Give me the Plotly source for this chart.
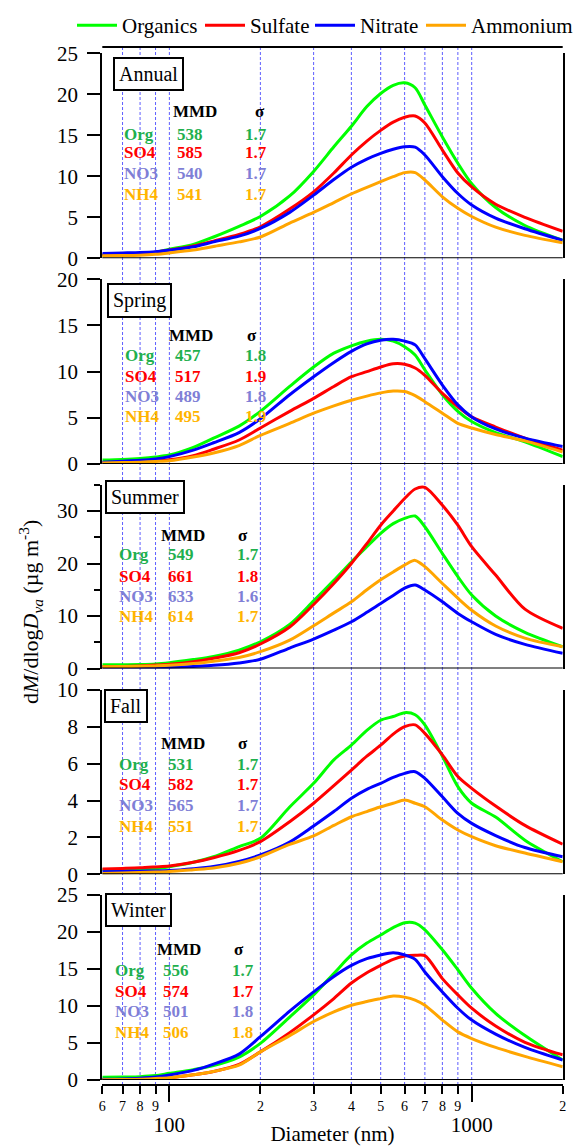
import plotly.graph_objects as go

W, H = 577, 1146


def px(x):
    return x / W


def py(y):
    return 1 - y / H


# ---------------- data ----------------
diam = [60, 70, 80, 90, 100, 120, 140, 170, 200, 250, 300, 350, 400, 450, 500,
        550, 600, 650, 700, 800, 900, 1000, 1200, 1500, 2000]

species = ["Organics", "Sulfate", "Nitrate", "Ammonium"]
line_colors = ["#00ff00", "#ff0000", "#0000ff", "#ffa500"]
legend_entry_widths = [73, 55, 56, 100]

annual_org = [0.4, 0.45, 0.55, 0.75, 1.1, 1.7, 2.6, 3.9, 5.1, 7.6, 10.6, 13.6, 16.1, 18.5, 20.1,
              21.1, 21.4, 20.8, 18.7, 14.8, 11.6, 9.1, 6.2, 4.0, 2.2]
annual_so4 = [0.4, 0.45, 0.55, 0.75, 1.0, 1.5, 2.1, 2.9, 3.85, 6.0, 8.1, 10.4, 12.6, 14.3, 15.6,
              16.6, 17.2, 17.35, 16.5, 13.2, 10.4, 8.7, 6.6, 5.0, 3.3]
annual_no3 = [0.6, 0.65, 0.7, 0.8, 1.0, 1.4, 2.0, 2.7, 3.65, 5.6, 7.7, 9.6, 11.1, 12.1, 12.8,
              13.3, 13.6, 13.55, 12.6, 9.95, 7.9, 6.5, 4.9, 3.6, 2.2]
annual_nh4 = [0.3, 0.33, 0.38, 0.48, 0.65, 1.0, 1.45, 2.0, 2.6, 4.3, 5.6, 6.8, 7.85, 8.65, 9.35,
              9.95, 10.45, 10.45, 9.55, 7.5, 6.1, 5.1, 3.8, 2.8, 1.9]

spring_org = [0.43, 0.5, 0.6, 0.75, 0.97, 1.8, 2.8, 4.1, 5.7, 8.4, 10.5, 12.0, 12.8, 13.3, 13.5,
              13.3, 12.7, 11.8, 10.2, 7.5, 5.7, 4.6, 3.4, 2.4, 0.8]
spring_so4 = [0.15, 0.2, 0.25, 0.35, 0.45, 0.9, 1.6, 2.6, 3.9, 5.7, 7.1, 8.4, 9.45, 10.0, 10.5,
              10.85, 10.8, 10.4, 9.6, 7.65, 6.2, 5.1, 4.0, 2.8, 1.5]
spring_no3 = [0.2, 0.3, 0.4, 0.55, 0.8, 1.5, 2.3, 3.4, 4.9, 7.5, 9.45, 11.0, 12.2, 13.0, 13.4,
              13.5, 13.3, 12.9, 11.4, 8.55, 6.4, 5.1, 3.8, 2.8, 1.9]
spring_nh4 = [0.1, 0.15, 0.2, 0.27, 0.35, 0.75, 1.2, 2.0, 3.1, 4.4, 5.5, 6.3, 6.9, 7.35, 7.7,
              7.9, 7.85, 7.4, 6.75, 5.5, 4.4, 3.9, 3.2, 2.5, 1.3]

summer_org = [0.7, 0.72, 0.75, 0.85, 1.1, 1.7, 2.3, 3.5, 5.1, 8.4, 12.9, 16.8, 20.3, 23.2, 25.75,
              27.6, 28.6, 29.05, 27.0, 21.9, 17.5, 14.0, 10.0, 6.9, 4.15]
summer_so4 = [0.35, 0.4, 0.5, 0.65, 0.8, 1.3, 1.95, 3.0, 4.67, 7.9, 12.2, 16.2, 20.0, 23.8, 27.3,
              30.0, 32.4, 34.2, 34.5, 31.1, 27.3, 23.2, 17.8, 11.3, 7.65]
summer_no3 = [0.05, 0.07, 0.1, 0.15, 0.2, 0.4, 0.6, 1.05, 1.75, 3.9, 5.6, 7.3, 8.9, 10.7, 12.4,
              13.9, 15.3, 15.9, 14.95, 12.7, 10.5, 8.9, 6.5, 4.6, 2.9]
summer_nh4 = [0.35, 0.38, 0.42, 0.5, 0.6, 0.95, 1.4, 2.1, 3.2, 5.4, 8.15, 10.6, 12.7, 15.0, 16.9,
              18.4, 19.7, 20.6, 19.4, 16.2, 13.4, 11.1, 8.1, 5.8, 4.15]

fall_org = [0.25, 0.2, 0.25, 0.3, 0.41, 0.65, 0.95, 1.5, 1.95, 3.65, 4.93, 6.2, 7.0, 7.8, 8.35,
            8.55, 8.76, 8.65, 8.1, 6.4, 4.75, 3.85, 3.1, 1.85, 0.68]
fall_so4 = [0.29, 0.32, 0.35, 0.4, 0.45, 0.65, 0.9, 1.3, 1.77, 2.85, 3.85, 4.8, 5.65, 6.4, 7.0,
            7.6, 8.0, 8.1, 7.64, 6.47, 5.3, 4.66, 3.7, 2.65, 1.63]
fall_no3 = [0.14, 0.15, 0.17, 0.18, 0.2, 0.3, 0.42, 0.7, 1.05, 1.75, 2.62, 3.4, 4.12, 4.6, 4.93,
            5.25, 5.47, 5.56, 5.2, 4.2, 3.3, 2.76, 2.1, 1.45, 0.95]
fall_nh4 = [0.05, 0.07, 0.1, 0.12, 0.15, 0.25, 0.34, 0.6, 0.95, 1.62, 2.08, 2.65, 3.12, 3.4, 3.66,
            3.85, 4.03, 3.85, 3.66, 2.94, 2.4, 2.04, 1.55, 1.15, 0.68]

winter_org = [0.36, 0.4, 0.45, 0.6, 0.9, 1.4, 1.95, 3.1, 4.95, 8.5, 11.5, 14.4, 16.9, 18.5, 19.6,
              20.6, 21.25, 21.2, 20.3, 17.6, 14.9, 12.4, 9.0, 6.0, 2.7]
winter_so4 = [0.05, 0.07, 0.1, 0.2, 0.3, 0.7, 1.15, 2.1, 3.8, 6.4, 8.8, 11.0, 13.1, 14.5, 15.5,
              16.3, 16.75, 16.85, 16.8, 13.7, 11.5, 9.7, 7.3, 5.1, 3.4]
winter_no3 = [0.1, 0.15, 0.25, 0.4, 0.67, 1.3, 2.15, 3.5, 5.85, 9.3, 11.9, 14.0, 15.5, 16.4, 16.9,
              17.2, 16.9, 16.3, 14.6, 11.9, 9.7, 8.1, 6.2, 4.4, 2.7]
winter_nh4 = [0.05, 0.07, 0.1, 0.2, 0.3, 0.7, 1.15, 2.0, 3.8, 6.0, 7.9, 9.2, 10.1, 10.6, 11.0,
              11.35, 11.2, 10.8, 10.1, 8.1, 6.5, 5.6, 4.4, 3.2, 1.8]

seasons = ["Annual", "Spring", "Summer", "Fall", "Winter"]
season_series = [
    [annual_org, annual_so4, annual_no3, annual_nh4],
    [spring_org, spring_so4, spring_no3, spring_nh4],
    [summer_org, summer_so4, summer_no3, summer_nh4],
    [fall_org, fall_so4, fall_no3, fall_nh4],
    [winter_org, winter_so4, winter_no3, winter_nh4],
]
y_max = [25, 20, 35, 10, 25]
y_dtick = [5, 5, 10, 2, 5]

stat_names = ["Org", "SO4", "NO3", "NH4"]
stat_colors = ["#1fb04e", "#ff0000", "#7f7fd6", "#ffb400"]
mmd_values = [
    ["538", "585", "540", "541"],
    ["457", "517", "489", "495"],
    ["549", "661", "633", "614"],
    ["531", "582", "565", "551"],
    ["556", "574", "501", "506"],
]
sigma_values = [
    ["1.7", "1.7", "1.7", "1.7"],
    ["1.8", "1.9", "1.8", "1.9"],
    ["1.7", "1.8", "1.6", "1.7"],
    ["1.7", "1.7", "1.7", "1.7"],
    ["1.7", "1.7", "1.8", "1.8"],
]

major_ticks = [100, 1000]
major_text = ["100", "1000"]
minor_ticks = [60, 70, 80, 90, 200, 300, 400, 500, 600, 700, 800, 900, 2000]
minor_text = ["6", "7", "8", "9", "2", "3", "4", "5", "6", "7", "8", "9", "2"]
grid_vals = [70, 80, 90, 100, 200, 300, 400, 500, 600, 700, 800, 900, 1000]

# ---------------- layout geometry (pixels) ----------------
FONT = "Liberation Serif"
X0, X1 = 102.3, 562.7
AXIS_Y = 1085
panel_px = [(53.3, 258.3), (279.3, 464.0), (484.8, 668.5), (689.8, 874.3), (895.0, 1080.0)]
box_pos = [(113, 56.5), (106.5, 283.3), (105, 480), (103.5, 689), (105, 893.3)]
stat_pos = [
    (122, 189.5, 256, 194.7, 260, 111.7, [134, 152.7, 173.3, 194.3]),
    (123, 187.5, 255, 190.5, 252.3, 335.7, [355.7, 376, 396, 416.7]),
    (117.3, 180.5, 247.5, 182.5, 243.3, 535, [555, 576, 596.7, 616.7]),
    (116.7, 180.5, 247.5, 182.5, 243.3, 743.3, [764.3, 784, 805.7, 826]),
    (112.7, 175.8, 242.5, 179.2, 239.2, 949.3, [970, 991.7, 1011.7, 1032.7]),
]

fig = go.Figure()

for i, series in enumerate(season_series):
    yref = "y" if i == 0 else f"y{i + 1}"
    for k, vals in enumerate(series):
        fig.add_trace(go.Scatter(
            x=diam, y=vals, mode="lines", name=species[k],
            line=dict(color=line_colors[k], width=3, shape="spline", smoothing=0.8),
            xaxis="x", yaxis=yref, legendgroup=species[k], showlegend=(i == 0),
            legendwidth=legend_entry_widths[k], hoverinfo="skip",
        ))

# invisible helper trace so the minor-label axis is drawn
fig.add_trace(go.Scatter(x=[100], y=[0], xaxis="x2", yaxis="y5", mode="markers",
                         marker=dict(opacity=0), showlegend=False, hoverinfo="skip"))

layout = dict(
    width=W, height=H, autosize=False,
    margin=dict(l=0, r=0, t=0, b=0, pad=0),
    paper_bgcolor="white", plot_bgcolor="rgba(0,0,0,0)",
    font=dict(family=FONT, color="black", size=20),
    showlegend=True,
    legend=dict(orientation="h", x=px(72), y=py(5), xanchor="left", yanchor="top",
                font=dict(family=FONT, size=21), bgcolor="rgba(0,0,0,0)",
                borderwidth=0, traceorder="normal", itemwidth=40,
                entrywidthmode="pixels"),
    xaxis=dict(type="log", range=[1.77815125, 3.30103], domain=[px(X0), px(X1)],
               anchor="free", position=py(AXIS_Y), showline=True, linewidth=2,
               linecolor="black", ticks="outside", ticklen=16, tickwidth=2,
               tickcolor="black", tickmode="array", tickvals=major_ticks,
               ticktext=major_text, tickfont=dict(family=FONT, size=21),
               ticklabelstandoff=5, showgrid=False, zeroline=False, automargin=False,
               title=dict(text="Diameter (nm)", font=dict(family=FONT, size=21), standoff=9)),
    xaxis2=dict(type="log", range=[1.77815125, 3.30103], domain=[px(X0), px(X1)],
                overlaying="x", anchor="free", position=py(AXIS_Y), showline=False,
                ticks="outside", ticklen=8, tickwidth=2, tickcolor="black",
                tickmode="array", tickvals=minor_ticks, ticktext=minor_text,
                tickfont=dict(family=FONT, size=14), ticklabelstandoff=0,
                showgrid=False, zeroline=False, automargin=False),
)

shapes = []
for i, (top, bot) in enumerate(panel_px):
    key = "yaxis" if i == 0 else f"yaxis{i + 1}"
    yname = "y" if i == 0 else f"y{i + 1}"
    ax = dict(domain=[py(bot), py(top)], range=[0, y_max[i]], anchor="x",
              showline=True, linewidth=2, linecolor="black", mirror=True,
              ticks="outside", ticklen=13, tickwidth=2, tickcolor="black",
              tick0=0, dtick=y_dtick[i], tickfont=dict(family=FONT, size=21),
              ticklabelstandoff=5, showgrid=False, zeroline=False, automargin=False)
    if i == 2:
        ax["minor"] = dict(dtick=5, ticklen=6, tickwidth=2, tickcolor="black",
                           ticks="outside", showgrid=False)
    layout[key] = ax
    # bottom (y = 0) line of each panel
    shapes.append(dict(type="line", xref="paper", yref=yname, x0=px(X0), x1=px(X1),
                       y0=0, y1=0, line=dict(color="black", width=2)))

# top frame line
shapes.append(dict(type="line", xref="paper", yref="paper", x0=px(X0), x1=px(X1),
                   y0=py(47), y1=py(47), line=dict(color="black", width=2)))
# dashed vertical grid lines spanning all panels
for v in grid_vals:
    shapes.append(dict(type="line", xref="x", yref="paper", x0=v, x1=v,
                       y0=py(AXIS_Y), y1=py(47), layer="below",
                       line=dict(color="rgba(40,40,255,0.75)", width=1, dash="3px,2px")))
layout["shapes"] = shapes

annotations = []
# y-axis title
annotations.append(dict(
    text="d<i>M</i>/dlog<i>D</i><sub><i>va</i></sub> (µg m<sup>-3</sup>)",
    xref="paper", yref="paper", x=px(30), y=py(612), textangle=-90,
    showarrow=False, font=dict(family=FONT, size=22), xanchor="center", yanchor="middle"))

for i, name in enumerate(seasons):
    bx, by = box_pos[i]
    annotations.append(dict(text=name, xref="paper", yref="paper", x=px(bx), y=py(by),
                            xanchor="left", yanchor="top", showarrow=False,
                            font=dict(family=FONT, size=20), bordercolor="black",
                            borderwidth=2, borderpad=4, bgcolor="white"))
    lab_l, mmd_c, sig_c, hm_c, hs_c, hy, rows = stat_pos[i]
    annotations.append(dict(text="<b>MMD</b>", xref="paper", yref="paper", x=px(hm_c),
                            y=py(hy), xanchor="center", yanchor="middle", showarrow=False,
                            font=dict(family=FONT, size=17, color="black")))
    annotations.append(dict(text="<b>σ</b>", xref="paper", yref="paper", x=px(hs_c),
                            y=py(hy), xanchor="center", yanchor="middle", showarrow=False,
                            font=dict(family=FONT, size=17, color="black")))
    for j in range(4):
        c = stat_colors[j]
        annotations.append(dict(text=f"<b>{stat_names[j]}</b>", xref="paper", yref="paper",
                                x=px(lab_l), y=py(rows[j]), xanchor="left", yanchor="middle",
                                showarrow=False, font=dict(family=FONT, size=17, color=c)))
        annotations.append(dict(text=f"<b>{mmd_values[i][j]}</b>", xref="paper", yref="paper",
                                x=px(mmd_c), y=py(rows[j]), xanchor="center", yanchor="middle",
                                showarrow=False, font=dict(family=FONT, size=17, color=c)))
        annotations.append(dict(text=f"<b>{sigma_values[i][j]}</b>", xref="paper", yref="paper",
                                x=px(sig_c), y=py(rows[j]), xanchor="center", yanchor="middle",
                                showarrow=False, font=dict(family=FONT, size=17, color=c)))
layout["annotations"] = annotations

fig.update_layout(**layout)
fig.write_html("out.html")
